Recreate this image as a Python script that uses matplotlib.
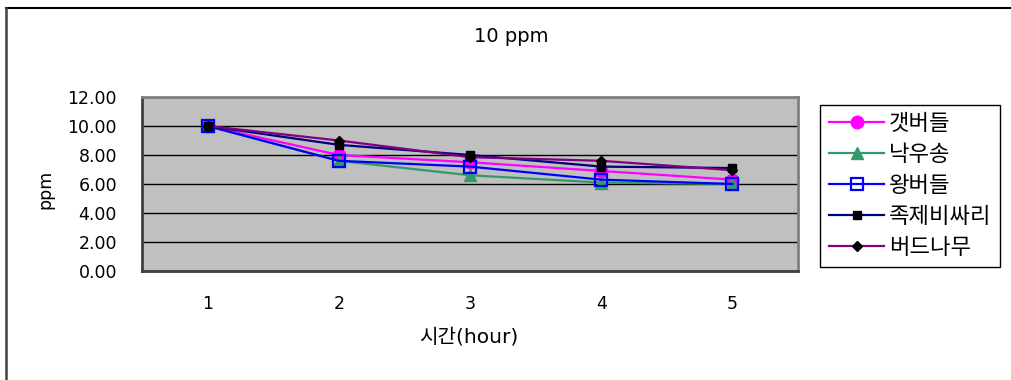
import matplotlib
matplotlib.use("Agg")
import matplotlib.pyplot as plt
from matplotlib.lines import Line2D

plt.rcParams['font.family'] = ['DejaVu Sans', 'Noto Sans CJK KR']

hours = [1, 2, 3, 4, 5]
hour_labels = ['1', '2', '3', '4', '5']
names = ['갯버들', '낙우송', '왕버들', '족제비싸리', '버드나무']
gaetbeodeul = [10.0, 8.0, 7.5, 6.9, 6.3]
nakusong = [10.0, 7.6, 6.6, 6.1, 6.0]
wangbeodeul = [10.0, 7.6, 7.2, 6.3, 6.0]
jokjebissari = [10.0, 8.7, 8.0, 7.2, 7.1]
beodeunamu = [10.0, 9.0, 7.85, 7.6, 6.95]
y_ticks = [0, 2, 4, 6, 8, 10, 12]

W, H = 1012, 380
fig = plt.figure(figsize=(W / 100, H / 100), dpi=100)
fig.patch.set_facecolor('white')

ax = fig.add_axes([142 / W, 1 - 271 / H, 656 / W, 174 / H])
ax.set_facecolor('#C0C0C0')

styles = [
    dict(color='#FF00FF', marker='o', ms=9, mfc='#FF00FF', mec='#FF00FF'),
    dict(color='#339966', marker='^', ms=9, mfc='#339966', mec='#339966'),
    dict(color='#0000FF', marker='s', ms=8.5, mfc='none', mec='#0000FF', mew=1.6),
    dict(color='#000080', marker='s', ms=6, mfc='black', mec='black'),
    dict(color='#800080', marker='D', ms=5, mfc='black', mec='black'),
]
series = [gaetbeodeul, nakusong, wangbeodeul, jokjebissari, beodeunamu]
handles = []
for name, vals, st in zip(names, series, styles):
    h, = ax.plot(hours, vals, lw=1.6, label=name, zorder=3, **st)
    handles.append(h)

ax.set_xlim(0.5, 5.5)
ax.set_ylim(0, 12)
ax.set_yticks(y_ticks)
ax.set_yticklabels([f'{v:.2f}' for v in y_ticks])
ax.set_xticks(hours)
ax.set_xticklabels(hour_labels)
ax.tick_params(axis='both', length=0, labelsize=12.5)
ax.tick_params(axis='y', pad=18)
ax.tick_params(axis='x', pad=17)
ax.yaxis.grid(True, color='black', lw=1)
ax.set_axisbelow(True)
for s in ['top', 'right']:
    ax.spines[s].set_color('#808080')
    ax.spines[s].set_linewidth(2)
for s in ['left', 'bottom']:
    ax.spines[s].set_color('#404040')
    ax.spines[s].set_linewidth(2)

fig.text(511 / W, 1 - 36 / H, '10 ppm', ha='center', va='center', fontsize=14)
fig.text(45 / W, 1 - 189 / H, 'ppm', ha='center', va='center', rotation=90, fontsize=12.5)
fig.text(469 / W, 1 - 337 / H, '시간(hour)', ha='center', va='center', fontsize=14.5)

leg = fig.legend(handles=handles, loc='upper left',
                 bbox_to_anchor=(820 / W, 1 - 105 / H), borderaxespad=0,
                 fancybox=False, edgecolor='black', framealpha=1,
                 prop={'size': 16}, handlelength=2.5, handletextpad=0.2,
                 labelspacing=0.48, borderpad=0.4)
leg.get_frame().set_linewidth(1)

# outer chart frame (top and left edges)
fig.add_artist(Line2D([6 / W, 1], [1 - 7.5 / H, 1 - 7.5 / H], color='black', lw=1.5,
                      transform=fig.transFigure))
fig.add_artist(Line2D([6 / W, 6 / W], [0, 1 - 7.5 / H], color='#404040', lw=1.8,
                      transform=fig.transFigure))

fig.savefig('out.png', dpi=100)
